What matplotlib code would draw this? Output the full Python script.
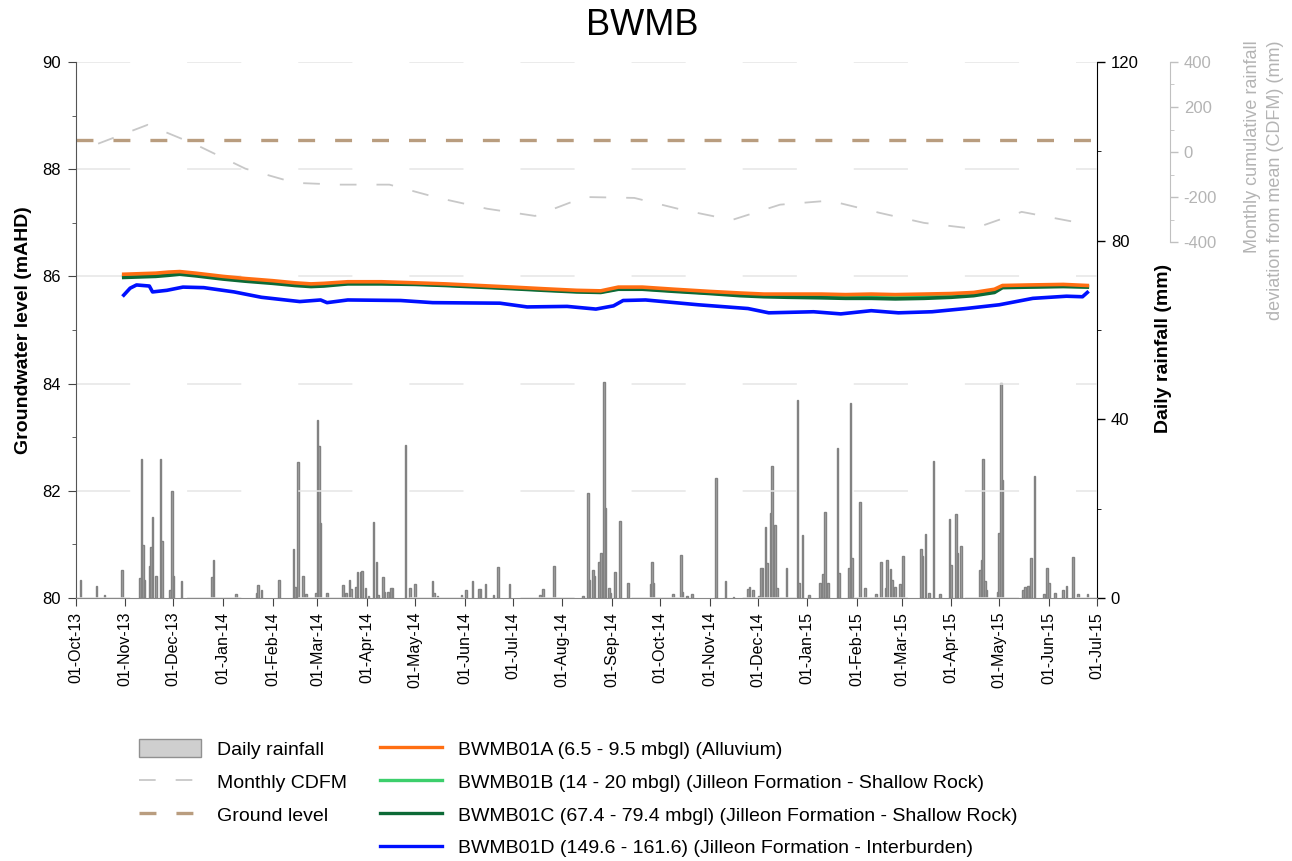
import pandas as pd
import matplotlib.pyplot as plt
import matplotlib.dates as mdates
from matplotlib.lines import Line2D
from matplotlib.patches import Patch
from matplotlib.ticker import MultipleLocator

plt.rcParams['font.family'] = ['Liberation Sans', 'DejaVu Sans']
plt.rcParams['lines.scale_dashes'] = False
plt.rcParams['axes.unicode_minus'] = False

# daily rainfall (mm)
rain_dates = [
    '2013-10-04', '2013-10-14', '2013-10-19', '2013-10-30', '2013-11-10', '2013-11-11', '2013-11-12',
    '2013-11-13', '2013-11-16', '2013-11-17', '2013-11-18', '2013-11-20', '2013-11-23', '2013-11-24',
    '2013-11-29', '2013-11-30', '2013-12-01', '2013-12-06', '2013-12-25', '2013-12-26', '2014-01-09',
    '2014-01-22', '2014-01-23', '2014-01-25', '2014-02-05', '2014-02-14', '2014-02-15', '2014-02-17',
    '2014-02-20', '2014-02-22', '2014-02-28', '2014-03-01', '2014-03-02', '2014-03-03', '2014-03-07',
    '2014-03-17', '2014-03-19', '2014-03-21', '2014-03-22', '2014-03-25', '2014-03-26', '2014-03-28',
    '2014-03-29', '2014-03-31', '2014-04-02', '2014-04-05', '2014-04-07', '2014-04-08', '2014-04-11',
    '2014-04-12', '2014-04-14', '2014-04-16', '2014-04-17', '2014-04-25', '2014-04-28', '2014-05-01',
    '2014-05-12', '2014-05-13', '2014-05-15', '2014-05-30', '2014-06-02', '2014-06-06', '2014-06-10',
    '2014-06-11', '2014-06-14', '2014-06-19', '2014-06-22', '2014-06-29', '2014-07-18', '2014-07-20',
    '2014-07-27', '2014-08-14', '2014-08-17', '2014-08-18', '2014-08-20', '2014-08-21', '2014-08-24',
    '2014-08-25', '2014-08-27', '2014-08-28', '2014-08-30', '2014-08-31', '2014-09-03', '2014-09-06',
    '2014-09-11', '2014-09-25', '2014-09-26', '2014-09-27', '2014-10-09', '2014-10-14', '2014-10-15',
    '2014-10-18', '2014-10-21', '2014-11-05', '2014-11-11', '2014-11-16', '2014-11-25', '2014-11-26',
    '2014-11-28', '2014-12-02', '2014-12-03', '2014-12-04', '2014-12-06', '2014-12-07', '2014-12-09',
    '2014-12-10', '2014-12-12', '2014-12-13', '2014-12-19', '2014-12-26', '2014-12-27', '2014-12-29',
    '2015-01-02', '2015-01-09', '2015-01-11', '2015-01-12', '2015-01-14', '2015-01-20', '2015-01-21',
    '2015-01-27', '2015-01-28', '2015-01-29', '2015-02-03', '2015-02-06', '2015-02-13', '2015-02-16',
    '2015-02-19', '2015-02-20', '2015-02-22', '2015-02-23', '2015-02-25', '2015-02-28', '2015-03-02',
    '2015-03-13', '2015-03-14', '2015-03-16', '2015-03-18', '2015-03-21', '2015-03-25', '2015-03-31',
    '2015-04-01', '2015-04-04', '2015-04-05', '2015-04-07', '2015-04-19', '2015-04-20', '2015-04-21',
    '2015-04-22', '2015-04-23', '2015-04-30', '2015-05-01', '2015-05-02', '2015-05-03', '2015-05-16',
    '2015-05-17', '2015-05-19', '2015-05-20', '2015-05-21', '2015-05-23', '2015-05-29', '2015-05-31',
    '2015-06-01', '2015-06-05', '2015-06-10', '2015-06-12', '2015-06-16', '2015-06-19', '2015-06-25',
]
rain_mm = [
    4.0, 2.7, 0.7, 6.3, 4.5, 31.2, 11.8,
    4.0, 7.2, 11.3, 18.1, 4.9, 31.2, 12.8,
    1.8, 24.0, 4.9, 3.8, 4.6, 8.5, 0.9,
    1.0, 2.8, 1.8, 4.0, 10.9, 2.5, 30.4,
    5.0, 0.8, 1.0, 39.9, 34.0, 16.7, 1.0,
    2.8, 1.0, 4.0, 2.0, 2.4, 5.9, 5.9,
    6.0, 2.2, 0.5, 16.9, 8.1, 0.7, 4.8,
    1.3, 1.3, 2.3, 2.3, 34.3, 2.3, 3.1,
    3.7, 1.0, 0.4, 0.6, 1.8, 3.7, 1.9,
    1.9, 3.1, 0.6, 7.0, 3.1, 0.7, 1.9,
    7.2, 0.4, 23.4, 4.0, 6.3, 4.9, 8.1,
    10.0, 48.4, 20.1, 2.3, 1.2, 5.9, 17.3,
    3.4, 3.1, 8.1, 3.3, 0.8, 9.6, 1.3,
    0.5, 0.8, 26.8, 3.7, 0.3, 1.9, 2.5,
    1.8, 0.5, 6.6, 6.6, 16.0, 7.9, 19.0,
    29.6, 16.3, 2.3, 6.6, 44.3, 3.4, 14.1,
    0.7, 3.3, 5.3, 19.3, 3.4, 33.5, 5.5,
    6.6, 43.6, 9.0, 21.4, 2.2, 0.8, 8.1,
    2.2, 8.5, 6.4, 4.0, 2.5, 3.1, 9.3,
    10.9, 9.4, 14.3, 1.0, 30.7, 0.8, 17.6,
    7.4, 18.7, 10.0, 11.7, 6.3, 8.5, 31.1,
    3.8, 1.8, 1.4, 14.6, 48.2, 26.4, 1.8,
    2.5, 2.7, 2.7, 8.9, 27.2, 0.8, 6.8,
    3.4, 1.2, 1.8, 2.7, 9.1, 0.8, 0.8,
]

# monthly CDFM (mm)
cdfm_dates = [
    '2013-10-15', '2013-11-15', '2013-12-15', '2014-01-15', '2014-02-15', '2014-03-15', '2014-04-15',
    '2014-05-15', '2014-06-15', '2014-07-15', '2014-08-15', '2014-09-15', '2014-10-15', '2014-11-15',
    '2014-12-15', '2015-01-15', '2015-02-15', '2015-03-15', '2015-04-15', '2015-05-15', '2015-06-15',
]
cdfm_mm = [37, 121, 33, -74, -137, -145, -145,
           -203, -252, -284, -200, -204, -257, -302,
           -234, -216, -270, -315, -341, -266, -308]

ground_level = 88.55

# groundwater levels (mAHD)
gw_dates = [
    '2013-10-31', '2013-11-10', '2013-11-20', '2013-11-28', '2013-12-05', '2013-12-15', '2014-01-01',
    '2014-01-15', '2014-02-01', '2014-02-15', '2014-02-25', '2014-03-05', '2014-03-20', '2014-04-10',
    '2014-05-01', '2014-05-20', '2014-06-10', '2014-07-01', '2014-07-20', '2014-08-10', '2014-08-25',
    '2014-09-05', '2014-09-20', '2014-10-10', '2014-11-01', '2014-11-20', '2014-12-05', '2014-12-20',
    '2015-01-10', '2015-01-25', '2015-02-10', '2015-02-25', '2015-03-15', '2015-04-01', '2015-04-15',
    '2015-04-28', '2015-05-03', '2015-05-20', '2015-06-10', '2015-06-25',
]
gw_a = [86.04, 86.05, 86.06, 86.08, 86.09, 86.06, 86.00,
        85.96, 85.92, 85.88, 85.86, 85.87, 85.90, 85.90,
        85.88, 85.86, 85.83, 85.80, 85.77, 85.74, 85.73,
        85.80, 85.80, 85.76, 85.72, 85.69, 85.67, 85.67,
        85.67, 85.66, 85.67, 85.66, 85.67, 85.68, 85.70,
        85.76, 85.83, 85.84, 85.85, 85.83]
gw_b = [86.01, 86.02, 86.03, 86.05, 86.06, 86.03, 85.97,
        85.93, 85.89, 85.85, 85.83, 85.84, 85.87, 85.87,
        85.86, 85.84, 85.81, 85.78, 85.75, 85.72, 85.71,
        85.77, 85.77, 85.73, 85.69, 85.66, 85.64, 85.63,
        85.63, 85.62, 85.62, 85.61, 85.62, 85.64, 85.66,
        85.72, 85.80, 85.81, 85.82, 85.81]
gw_c = [85.98, 85.99, 86.00, 86.02, 86.04, 86.01, 85.95,
        85.91, 85.87, 85.83, 85.81, 85.82, 85.86, 85.86,
        85.85, 85.83, 85.80, 85.77, 85.74, 85.71, 85.70,
        85.76, 85.76, 85.72, 85.68, 85.64, 85.62, 85.61,
        85.60, 85.59, 85.59, 85.58, 85.59, 85.61, 85.64,
        85.70, 85.79, 85.80, 85.81, 85.80]

gw_d_dates = [
    '2013-10-31', '2013-11-04', '2013-11-08', '2013-11-16', '2013-11-18', '2013-11-27', '2013-12-07',
    '2013-12-20', '2014-01-08', '2014-01-25', '2014-02-18', '2014-03-03', '2014-03-07', '2014-03-20',
    '2014-04-22', '2014-05-12', '2014-06-23', '2014-07-10', '2014-08-04', '2014-08-22', '2014-09-02',
    '2014-09-08', '2014-09-22', '2014-10-25', '2014-11-25', '2014-12-08', '2015-01-05', '2015-01-22',
    '2015-02-10', '2015-02-27', '2015-03-20', '2015-04-10', '2015-05-01', '2015-05-22', '2015-06-12',
    '2015-06-22', '2015-06-25',
]
gw_d = [85.65, 85.78, 85.84, 85.82, 85.71, 85.74, 85.80,
        85.79, 85.71, 85.61, 85.53, 85.56, 85.51, 85.56,
        85.55, 85.51, 85.50, 85.43, 85.44, 85.39, 85.45,
        85.55, 85.56, 85.47, 85.40, 85.32, 85.34, 85.30,
        85.36, 85.32, 85.34, 85.40, 85.47, 85.59, 85.63,
        85.62, 85.70]

labels_gw = ['BWMB01A (6.5 - 9.5 mbgl) (Alluvium)',
             'BWMB01B (14 - 20 mbgl) (Jilleon Formation - Shallow Rock)',
             'BWMB01C (67.4 - 79.4 mbgl) (Jilleon Formation - Shallow Rock)',
             'BWMB01D (149.6 - 161.6) (Jilleon Formation - Interburden)']
colors_gw = ['#ff6e12', '#3ccf6c', '#0c6a36', '#0010ff']

fig = plt.figure(figsize=(12.92, 8.61), dpi=100)
ax = fig.add_axes([0.0586, 0.3055, 0.7904, 0.6225])
ax2 = ax.twinx()
ax3 = fig.add_axes([0.0586, 0.7189, 0.7904, 0.2091])

ax2.set_zorder(1)
ax3.set_zorder(2)
ax.set_zorder(3)
for a in (ax, ax2, ax3):
    a.patch.set_visible(False)

xmin, xmax = pd.Timestamp('2013-10-01'), pd.Timestamp('2015-07-01')

# rainfall bars
ax2.bar(pd.to_datetime(rain_dates), rain_mm, width=1.0, color='#a8a8a8',
        edgecolor='#828282', linewidth=1.0)
ax2.set_ylim(0, 120)
ax2.yaxis.set_major_locator(MultipleLocator(40))
ax2.yaxis.set_minor_locator(MultipleLocator(20))
ax2.set_ylabel('Daily rainfall (mm)', fontsize=14, fontweight='bold')
ax2.yaxis.set_label_coords(1.057, 0.465)
ax2.tick_params(axis='y', labelsize=12, length=6, width=1, pad=4)
ax2.tick_params(axis='y', which='minor', length=3)
ax2.spines['right'].set_color('black')
for s in ('top', 'left', 'bottom'):
    ax2.spines[s].set_visible(False)

# CDFM on third axis
ax3.plot(pd.to_datetime(cdfm_dates), cdfm_mm, color='#c8c8c8', lw=1.3, dashes=(12, 14.4))
ax3.set_xlim(xmin, xmax)
ax3.set_ylim(-400, 400)
ax3.xaxis.set_visible(False)
ax3.yaxis.tick_right()
ax3.yaxis.set_label_position('right')
ax3.yaxis.set_major_locator(MultipleLocator(200))
ax3.yaxis.set_minor_locator(MultipleLocator(100))
ax3.tick_params(axis='y', labelsize=12, length=6, width=1, color='#c0c0c0',
                labelcolor='#b4b4b4', pad=4)
ax3.tick_params(axis='y', which='minor', length=3, color='#c0c0c0')
for s in ('top', 'left', 'bottom'):
    ax3.spines[s].set_visible(False)
ax3.spines['right'].set_position(('outward', 52.5))
ax3.spines['right'].set_color('#c0c0c0')
ax3.set_ylabel('Monthly cumulative rainfall\ndeviation from mean (CDFM) (mm)',
               fontsize=13, color='#b4b4b4', rotation=90, multialignment='right',
               linespacing=1.45)
ax3.yaxis.set_label_coords(1.144, 0.345)

# groundwater
ax.axhline(ground_level, color='#b99d7f', lw=2.4, dashes=(12.2, 14.4))
ax.plot(pd.to_datetime(gw_dates), gw_b, color=colors_gw[1], lw=2.6)
ax.plot(pd.to_datetime(gw_dates), gw_c, color=colors_gw[2], lw=2.6)
ax.plot(pd.to_datetime(gw_dates), gw_a, color=colors_gw[0], lw=2.6)
ax.plot(pd.to_datetime(gw_d_dates), gw_d, color=colors_gw[3], lw=2.6)

ax.set_xlim(xmin, xmax)
ax.set_ylim(80, 90)
ax.yaxis.set_major_locator(MultipleLocator(2))
ax.yaxis.set_minor_locator(MultipleLocator(1))
ax.yaxis.grid(True, which='major', color='#e6e6e6', lw=1.1, linestyle=(0, (39, 41)))
ax.set_axisbelow(True)
ax.xaxis.set_major_locator(mdates.MonthLocator())
ax.xaxis.set_major_formatter(mdates.DateFormatter('%d-%b-%y'))
ax.tick_params(axis='x', labelsize=11.5, rotation=90, length=6, color='#444444', pad=4)
ax.tick_params(axis='y', labelsize=12, length=6, color='#444444', pad=5)
ax.tick_params(axis='y', which='minor', length=3, color='#444444')
ax.set_ylabel('Groundwater level (mAHD)', fontsize=14, fontweight='bold', labelpad=7)
ax.spines['top'].set_visible(False)
ax.spines['right'].set_visible(False)
ax.spines['left'].set_color('#555555')
ax.spines['bottom'].set_color('#888888')

fig.text(0.497, 0.970, 'BWMB', ha='center', va='center', fontsize=26)

# legend
handles = [Patch(facecolor='#cfcfcf', edgecolor='#909090'),
           Line2D([], [], color='#c8c8c8', lw=1.3, dashes=(12, 14.4)),
           Line2D([], [], color='#b99d7f', lw=2.4, dashes=(12.2, 14.4)),
           Line2D([], [], linestyle='none')]
labels = ['Daily rainfall', 'Monthly CDFM', 'Ground level', '']
for c, l in zip(colors_gw, labels_gw):
    handles.append(Line2D([], [], color=c, lw=2.4))
    labels.append(l)
fig.legend(handles, labels, ncol=2, loc='upper left', bbox_to_anchor=(0.1075, 0.1415),
           frameon=False, fontsize=14, handlelength=3.2, handleheight=1.05,
           labelspacing=0.68, columnspacing=1.7, handletextpad=0.8,
           borderpad=0, borderaxespad=0)

fig.savefig('out.png', dpi=100)
